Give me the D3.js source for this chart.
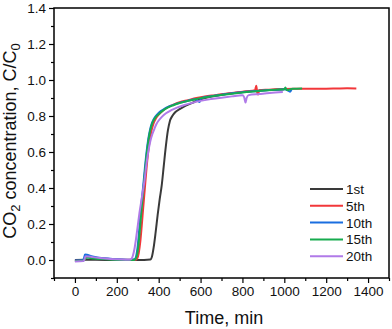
<!DOCTYPE html>
<html>
<head>
<meta charset="utf-8">
<script src="https://cdn.jsdelivr.net/npm/d3@7"></script>
<style>
  body { margin: 0; background: #fff; }
  svg { display: block; font-family: "Liberation Sans", Arial, sans-serif; }
</style>
</head>
<body>
<div id="app"></div>
<script>
// breakthrough curves, time (min) vs C/C0
const names = ["1st", "5th", "10th", "15th", "20th"];
const colors = ["#3a3a3a", "#f2373a", "#1a6ee0", "#17ab4f", "#b07ae8"];

const t1st = [0, 50, 100, 200, 300, 360, 368, 376, 385, 395, 405, 414, 424, 434, 444, 453, 465, 480, 500, 525, 560, 600, 650, 700, 750, 800, 850, 900, 950, 1000];
const c1st = [0, 0.002, 0.001, 0, 0, 0.003, 0.02, 0.07, 0.15, 0.25, 0.34, 0.41, 0.52, 0.63, 0.72, 0.77, 0.8, 0.822, 0.838, 0.855, 0.873, 0.893, 0.908, 0.918, 0.926, 0.933, 0.939, 0.943, 0.946, 0.948];

const t5th = [0, 42, 48, 53, 65, 90, 130, 180, 240, 290, 298, 305, 312, 319, 326, 334, 342, 350, 358, 366, 375, 387, 400, 420, 445, 470, 500, 540, 580, 620, 670, 720, 770, 820, 860, 866, 870, 875, 880, 920, 960, 1000, 1050, 1100, 1150, 1200, 1250, 1300, 1344];
const c5th = [-0.004, -0.002, 0.008, 0.02, 0.019, 0.014, 0.008, 0.004, 0.002, 0.002, 0.01, 0.04, 0.1, 0.19, 0.29, 0.4, 0.51, 0.6, 0.67, 0.72, 0.757, 0.787, 0.808, 0.83, 0.85, 0.863, 0.876, 0.888, 0.9, 0.908, 0.916, 0.924, 0.931, 0.937, 0.943, 0.968, 0.935, 0.92, 0.943, 0.946, 0.948, 0.95, 0.951, 0.951, 0.952, 0.952, 0.953, 0.954, 0.953];

const t10th = [0, 35, 42, 48, 58, 75, 100, 140, 180, 230, 270, 285, 292, 298, 305, 312, 319, 326, 334, 342, 350, 358, 366, 375, 390, 410, 430, 455, 480, 510, 540, 575, 588, 595, 602, 650, 700, 750, 800, 850, 900, 950, 1000, 1020, 1028, 1034];
const c10th = [-0.003, -0.002, 0.005, 0.03, 0.029, 0.022, 0.016, 0.01, 0.006, 0.003, 0.002, 0.005, 0.02, 0.06, 0.14, 0.24, 0.33, 0.41, 0.51, 0.6, 0.67, 0.72, 0.755, 0.78, 0.805, 0.827, 0.842, 0.856, 0.866, 0.876, 0.885, 0.893, 0.883, 0.878, 0.898, 0.91, 0.918, 0.926, 0.932, 0.938, 0.942, 0.945, 0.948, 0.94, 0.935, 0.946];

const t15th = [0, 40, 47, 52, 65, 90, 130, 180, 240, 280, 290, 297, 304, 311, 318, 325, 332, 340, 348, 356, 364, 372, 385, 400, 420, 445, 470, 500, 540, 580, 620, 670, 720, 770, 820, 870, 920, 960, 1000, 1005, 1012, 1040, 1085];
const c15th = [-0.005, -0.004, 0.005, 0.013, 0.012, 0.009, 0.005, 0.002, 0, 0, 0.008, 0.03, 0.09, 0.18, 0.28, 0.37, 0.46, 0.56, 0.64, 0.7, 0.74, 0.768, 0.792, 0.81, 0.83, 0.848, 0.86, 0.872, 0.884, 0.895, 0.903, 0.912, 0.92, 0.927, 0.933, 0.938, 0.943, 0.946, 0.948, 0.958, 0.944, 0.951, 0.953];

const t20th = [0, 40, 46, 50, 62, 85, 120, 170, 220, 260, 270, 277, 284, 292, 300, 308, 316, 324, 332, 340, 350, 360, 370, 380, 390, 400, 415, 435, 460, 490, 520, 560, 600, 650, 700, 750, 800, 808, 815, 820, 830, 880, 930, 993];
const c20th = [-0.008, -0.006, 0.005, 0.02, 0.02, 0.016, 0.011, 0.006, 0.003, 0.002, 0.006, 0.025, 0.06, 0.12, 0.19, 0.26, 0.32, 0.38, 0.44, 0.52, 0.6, 0.66, 0.7, 0.73, 0.757, 0.775, 0.795, 0.815, 0.832, 0.848, 0.86, 0.873, 0.884, 0.894, 0.902, 0.909, 0.915, 0.905, 0.875, 0.9, 0.916, 0.922, 0.928, 0.933];

const times = [t1st, t5th, t10th, t15th, t20th];
const values = [c1st, c5th, c10th, c15th, c20th];

const xTicks = [0, 200, 400, 600, 800, 1000, 1200, 1400];
const yTicks = [0.0, 0.2, 0.4, 0.6, 0.8, 1.0, 1.2, 1.4];

const W = 392, H = 329;
const m = { left: 54, right: 3, top: 8, bottom: 51 };

const svg = d3.select("#app").append("svg")
  .attr("width", W)
  .attr("height", H);

const x = d3.scaleLinear().domain([-100, 1500]).range([m.left, W - m.right]);
const y = d3.scaleLinear().domain([-0.1, 1.4]).range([H - m.bottom, m.top]);

// minor ticks first, then the major axes on top
const xMinor = d3.range(-100, 1501, 100).filter(v => v % 200 !== 0);
const yMinor = d3.range(-1, 14, 2).map(v => v / 10);

svg.append("g")
  .attr("transform", `translate(0,${H - m.bottom})`)
  .call(d3.axisBottom(x).tickValues(xMinor).tickSize(3).tickFormat(""))
  .call(g => g.select(".domain").remove())
  .selectAll("line").attr("stroke-width", 1.2);

svg.append("g")
  .attr("transform", `translate(${m.left},0)`)
  .call(d3.axisLeft(y).tickValues(yMinor).tickSize(3).tickFormat(""))
  .call(g => g.select(".domain").remove())
  .selectAll("line").attr("stroke-width", 1.2);

const xAxis = svg.append("g")
  .attr("transform", `translate(0,${H - m.bottom})`)
  .call(d3.axisBottom(x).tickValues(xTicks).tickSize(5).tickSizeOuter(0).tickPadding(3).tickFormat(d3.format("d")));

const yAxis = svg.append("g")
  .attr("transform", `translate(${m.left},0)`)
  .call(d3.axisLeft(y).tickValues(yTicks).tickSize(5).tickSizeOuter(0).tickPadding(3).tickFormat(d3.format(".1f")));

[xAxis, yAxis].forEach(g => {
  g.selectAll("text").attr("font-size", 13.5).attr("fill", "#111").attr("font-family", "Liberation Sans, Arial, sans-serif");
  g.selectAll("line").attr("stroke-width", 1.2);
  g.select(".domain").remove();
});

// curves
const line = d3.line()
  .x(d => x(d[0]))
  .y(d => y(d[1]))
  .curve(d3.curveMonotoneX);

const curves = svg.append("g");
names.forEach((n, i) => {
  const pts = times[i].map((t, j) => [t, values[i][j]]);
  curves.append("path")
    .datum(pts)
    .attr("fill", "none")
    .attr("stroke", colors[i])
    .attr("stroke-width", 2)
    .attr("stroke-linejoin", "round")
    .attr("d", line);
});

// frame
svg.append("rect")
  .attr("x", m.left)
  .attr("y", m.top)
  .attr("width", W - m.left - m.right)
  .attr("height", H - m.top - m.bottom)
  .attr("fill", "none")
  .attr("stroke", "#000")
  .attr("stroke-width", 1.5);

// legend
const legend = svg.append("g").attr("transform", "translate(310,189)");
names.forEach((n, i) => {
  const row = legend.append("g").attr("transform", `translate(0,${i * 16.8})`);
  row.append("line")
    .attr("x1", 0).attr("x2", 33)
    .attr("stroke", colors[i])
    .attr("stroke-width", 2);
  row.append("text")
    .attr("x", 36)
    .attr("y", 5)
    .attr("font-size", 13.5)
    .attr("fill", "#111")
    .text(n);
});

// axis titles
svg.append("text")
  .attr("x", 224)
  .attr("y", 324)
  .attr("text-anchor", "middle")
  .attr("font-size", 18)
  .attr("fill", "#111")
  .text("Time, min");

const yt = svg.append("text")
  .attr("transform", "translate(16,141) rotate(-90)")
  .attr("text-anchor", "middle")
  .attr("font-size", 18)
  .attr("fill", "#111");
yt.append("tspan").text("CO");
yt.append("tspan").attr("font-size", 13).attr("dy", 4).text("2");
yt.append("tspan").attr("dy", -4).text(" concentration, C/C");
yt.append("tspan").attr("font-size", 13).attr("dy", 4).text("0");
</script>
</body>
</html>
